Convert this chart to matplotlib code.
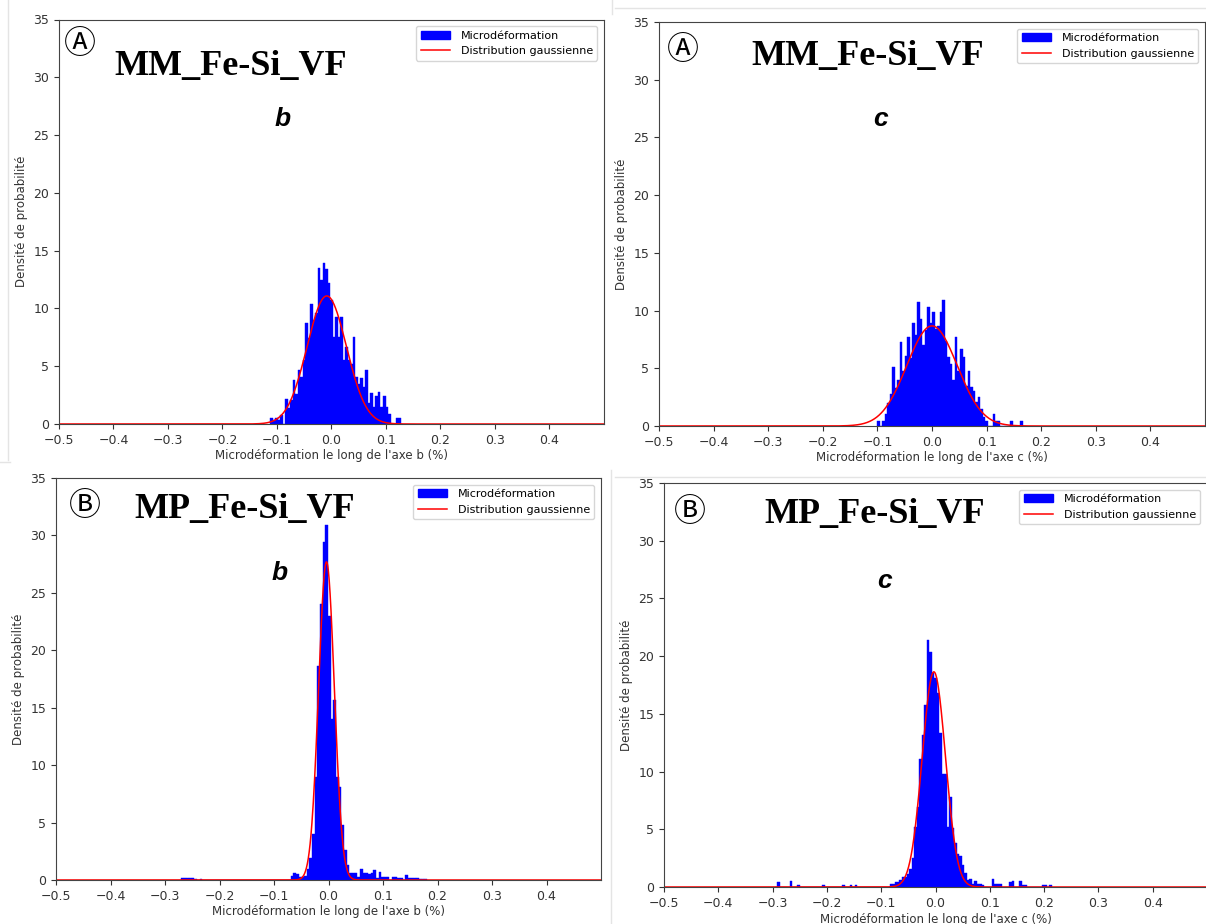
import matplotlib
matplotlib.use("Agg")
import matplotlib.pyplot as plt
import numpy as np
from matplotlib.patches import Patch
from matplotlib.lines import Line2D

W, H = 1206, 924

# --- data (density values per bin) ---
# panel A / axe b
p1_start, p1_width = -0.1125, 0.0046
p1_heights = [0.5, 0.35, 0.5, 0.35, 0.8, 0.0, 2.2, 1.35, 2.1, 3.8,
              2.6, 4.7, 4.1, 5.5, 8.7, 7.4, 10.4, 9.0, 9.6, 13.5,
              12.5, 13.9, 13.4, 12.2, 10.7, 7.5, 9.3, 7.5, 9.3, 5.5,
              6.7, 5.5, 5.2, 7.5, 4.1, 3.5, 4.0, 3.2, 4.7, 1.8,
              2.7, 1.5, 2.4, 2.8, 1.5, 2.4, 1.5, 0.9, 0.0, 0.0,
              0.5, 0.5]
p1_mu, p1_sigma = -0.0087, 0.036

# panel A / axe c
p2_start, p2_width = -0.1005, 0.0046
p2_heights = [0.4, 0.0, 0.4, 1.0, 2.0, 2.8, 5.1, 3.3, 4.0, 7.3,
              4.8, 6.1, 7.7, 5.9, 8.9, 7.9, 10.7, 9.3, 7.0, 8.3,
              10.3, 8.9, 9.9, 8.4, 8.7, 9.9, 10.9, 7.4, 6.0, 5.4,
              4.0, 7.7, 4.8, 6.7, 6.0, 3.5, 4.8, 3.4, 3.0, 2.1,
              2.5, 1.5, 0.8, 0.4, 0.0, 0.0, 1.0, 0.4, 0.4, 0.0,
              0.0, 0.0, 0.0, 0.4, 0.0, 0.0, 0.0, 0.45]
p2_mu, p2_sigma = 0.0, 0.046

# panel B / axe b
p3_start, p3_width = -0.2704, 0.0049
p3_heights = ([0.2, 0.2, 0.2, 0.2, 0.2, 0.1, 0.0, 0.1] + [0.0] * 33 +
              [0.35, 0.6, 0.5, 0.3, 0.3, 0.35, 1.0, 1.9, 4.0, 9.0,
               18.6, 24.0, 29.4, 30.9, 23.0, 14.0, 15.7, 9.0, 8.1, 4.8,
               2.6, 1.3, 0.6, 0.6, 0.6, 0.3, 1.0, 0.6, 0.6, 0.5,
               0.6, 0.9, 0.2, 0.7, 0.25, 0.25, 0.25, 0.0, 0.25, 0.25,
               0.15, 0.15, 0.0, 0.4, 0.2, 0.2, 0.2, 0.2, 0.1, 0.1,
               0.1])
p3_mu, p3_sigma = -0.0037, 0.0144

# panel B / axe c
p4_start, p4_width = -0.2963, 0.0046
p4_heights = ([0.0, 0.4, 0.0, 0.0, 0.0, 0.0, 0.5, 0.0, 0.0, 0.2,
               0.0, 0.0, 0.0, 0.0, 0.0, 0.0, 0.0, 0.0, 0.0, 0.2,
               0.0, 0.0, 0.0, 0.0, 0.0, 0.0, 0.0, 0.15, 0.0, 0.0,
               0.2, 0.0, 0.2, 0.0, 0.0, 0.0, 0.0, 0.0, 0.0, 0.0,
               0.0, 0.0, 0.0, 0.0, 0.0, 0.0] +
              [0.3, 0.3, 0.4, 0.4, 0.6, 0.9, 0.9, 1.1, 1.6, 2.5,
               5.2, 6.9, 11.1, 13.2, 15.8, 21.4, 20.4, 18.5, 18.1, 16.8,
               13.3, 9.8, 9.8, 5.2, 7.8, 5.1, 3.8, 2.9, 2.7, 1.9,
               1.2, 0.6, 0.7, 0.3, 0.5, 0.3, 0.3, 0.2, 0.0, 0.0,
               0.0, 0.7, 0.3, 0.3, 0.3, 0.0, 0.0, 0.0, 0.4, 0.5,
               0.0, 0.0, 0.5, 0.15, 0.15, 0.0, 0.0, 0.0, 0.0, 0.0,
               0.0, 0.15, 0.15, 0.0, 0.15])
p4_mu, p4_sigma = -0.003, 0.0214

xticks = [-0.5, -0.4, -0.3, -0.2, -0.1, 0.0, 0.1, 0.2, 0.3, 0.4]
yticks = [0, 5, 10, 15, 20, 25, 30, 35]


def gauss(x, mu, sigma):
    return np.exp(-0.5 * ((x - mu) / sigma) ** 2) / (sigma * np.sqrt(2 * np.pi))


def add_panel(fig, box, start, width, heights, mu, sigma, axe, letter, name, title_pos):
    l, t, r, b = box
    ax = fig.add_axes([l / W, 1 - b / H, (r - l) / W, (b - t) / H])
    edges = start + width * np.arange(len(heights))
    ax.bar(edges, heights, width=width, align='edge', color='blue',
           edgecolor='blue', linewidth=0.3)
    xs = np.linspace(-0.5, 0.5, 1200)
    ax.plot(xs, gauss(xs, mu, sigma), color='red', lw=1.1)
    ax.set_xlim(-0.5, 0.5)
    ax.set_ylim(0, 35)
    ax.set_xticks(xticks)
    ax.set_yticks(yticks)
    ax.tick_params(labelsize=9, colors='#333333')
    for s in ax.spines.values():
        s.set_color('#444444')
    ax.set_xlabel("Microdéformation le long de l'axe %s (%%)" % axe, fontsize=8.5,
                  color='#333333', labelpad=2)
    ax.set_ylabel("Densité de probabilité", fontsize=8.5, color='#333333')
    handles = [Patch(color='blue'), Line2D([0], [0], color='red', lw=1.1)]
    ax.legend(handles, ["Microdéformation", "Distribution gaussienne"],
              loc='upper right', fontsize=8, handlelength=2.6, handletextpad=1.0,
              borderaxespad=0.6)

    (cx, cy), (tx, ty), (bx, by) = title_pos
    fig.text(cx / W, 1 - cy / H, letter, fontsize=23, ha='center', va='center',
             family=['DejaVu Sans', 'Noto Sans CJK SC'])
    fig.text(tx / W, 1 - ty / H, name, fontsize=26, ha='center', va='baseline',
             family='Liberation Serif', weight='bold')
    fig.text(bx / W, 1 - by / H, axe, fontsize=19, ha='center', va='baseline',
             family='Liberation Sans', weight='bold', style='italic')
    return ax


fig = plt.figure(figsize=(W / 100, H / 100), dpi=100)

add_panel(fig, (59, 19.5, 604, 424), p1_start, p1_width, p1_heights, p1_mu, p1_sigma,
          'b', '\u24b6', 'MM_Fe-Si_VF', ((80, 45), (231, 75), (283, 126)))
add_panel(fig, (659, 22, 1205, 426), p2_start, p2_width, p2_heights, p2_mu, p2_sigma,
          'c', '\u24b6', 'MM_Fe-Si_VF', ((683, 50), (868, 65), (880, 126)))
add_panel(fig, (56, 478, 601, 880), p3_start, p3_width, p3_heights, p3_mu, p3_sigma,
          'b', '\u24b7', 'MP_Fe-Si_VF', ((85, 506), (245, 518), (280, 580)))
add_panel(fig, (664, 483, 1207, 887), p4_start, p4_width, p4_heights, p4_mu, p4_sigma,
          'c', '\u24b7', 'MP_Fe-Si_VF', ((690, 513), (875, 523), (885, 588)))

# faint borders between the pasted screenshots
for xs_, ys_ in [((8, 8), (0, 460)), ((0, 10), (462, 462)), ((611, 611), (470, 924)),
                 ((615, 1206), (477, 477)), ((615, 1206), (8, 8)), ((612, 612), (0, 14))]:
    fig.add_artist(Line2D([x / W for x in xs_], [1 - y / H for y in ys_],
                          color='#e4e4e4', lw=1))

fig.savefig('out.png', dpi=100)
